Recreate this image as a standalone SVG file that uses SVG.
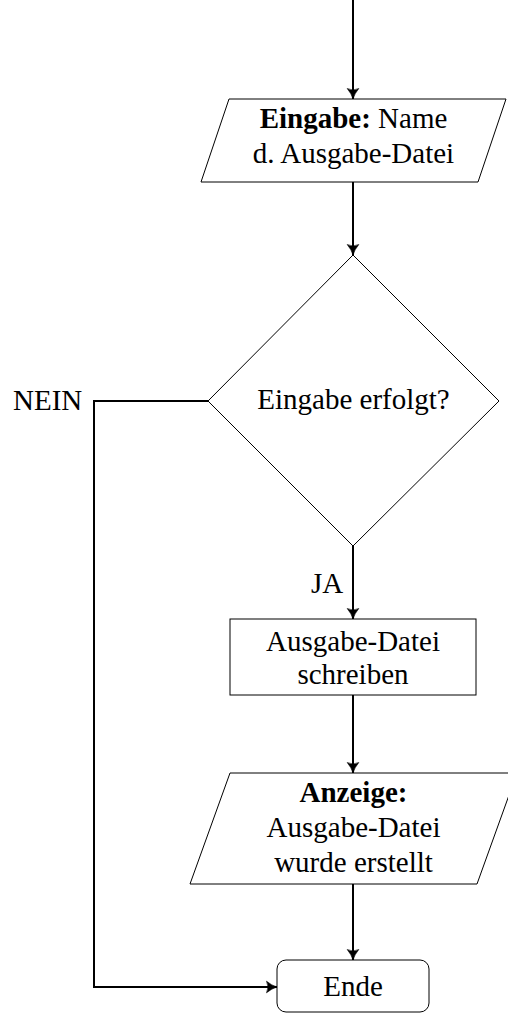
<svg xmlns="http://www.w3.org/2000/svg" width="508" height="1014" viewBox="0 0 508 1014">
  <style>
    .node { fill: #ffffff; stroke: #000000; stroke-width: 1; }
    .edge { fill: none; stroke: #000000; stroke-width: 2; }
    text { font-family: "Liberation Serif", "Times New Roman", serif; font-size: 29px; fill: #000000; text-anchor: middle; }
    .b { font-weight: bold; }
    .lbl { text-anchor: start; }
  </style>
  <defs>
    <!-- curved-flank arrowhead, tip at the end of the path -->
    <marker id="to" markerWidth="14" markerHeight="14" refX="12" refY="7" orient="auto" markerUnits="userSpaceOnUse">
      <path d="M12,7 Q6.5,5.4 1.5,1.2 Q4.5,7 1.5,12.8 Q6.5,8.6 12,7 Z" fill="#000" stroke="#000" stroke-width="0.6" stroke-linejoin="round"/>
    </marker>
  </defs>

  <g id="connectors">
    <path class="edge" d="M353,0 V99" marker-end="url(#to)"/>
    <path class="edge" d="M353,182 V255" marker-end="url(#to)"/>
    <path class="edge" d="M353,546 V619" marker-end="url(#to)"/>
    <path class="edge" d="M353,695 V773" marker-end="url(#to)"/>
    <path class="edge" d="M353,884 V960" marker-end="url(#to)"/>
    <path class="edge" d="M208,401 H94 V987 H277" marker-end="url(#to)"/>
    <text class="lbl" x="13" y="410">NEIN</text>
    <text class="lbl" x="311" y="593">JA</text>
  </g>

  <g id="input-name">
    <polygon class="node" points="229,99 506,99 478,182 201,182"/>
    <text x="353.5" y="128"><tspan class="b">Eingabe:</tspan> Name</text>
    <text x="353.5" y="163">d. Ausgabe-Datei</text>
  </g>

  <g id="decision">
    <polygon class="node" points="353,255 499,401 353,546 208,401"/>
    <text x="353.5" y="409">Eingabe erfolgt?</text>
  </g>

  <g id="write-file">
    <rect class="node" x="230" y="619" width="246" height="76"/>
    <text x="353" y="651">Ausgabe-Datei</text>
    <text x="353" y="684">schreiben</text>
  </g>

  <g id="show-result">
    <polygon class="node" points="230,773 517,773 477,884 190,884"/>
    <text class="b" x="353.5" y="802">Anzeige:</text>
    <text x="353.5" y="837">Ausgabe-Datei</text>
    <text x="353.5" y="872">wurde erstellt</text>
  </g>

  <g id="end">
    <rect class="node" x="277" y="960" width="152" height="52" rx="9" ry="9"/>
    <text x="353" y="996">Ende</text>
  </g>
</svg>
